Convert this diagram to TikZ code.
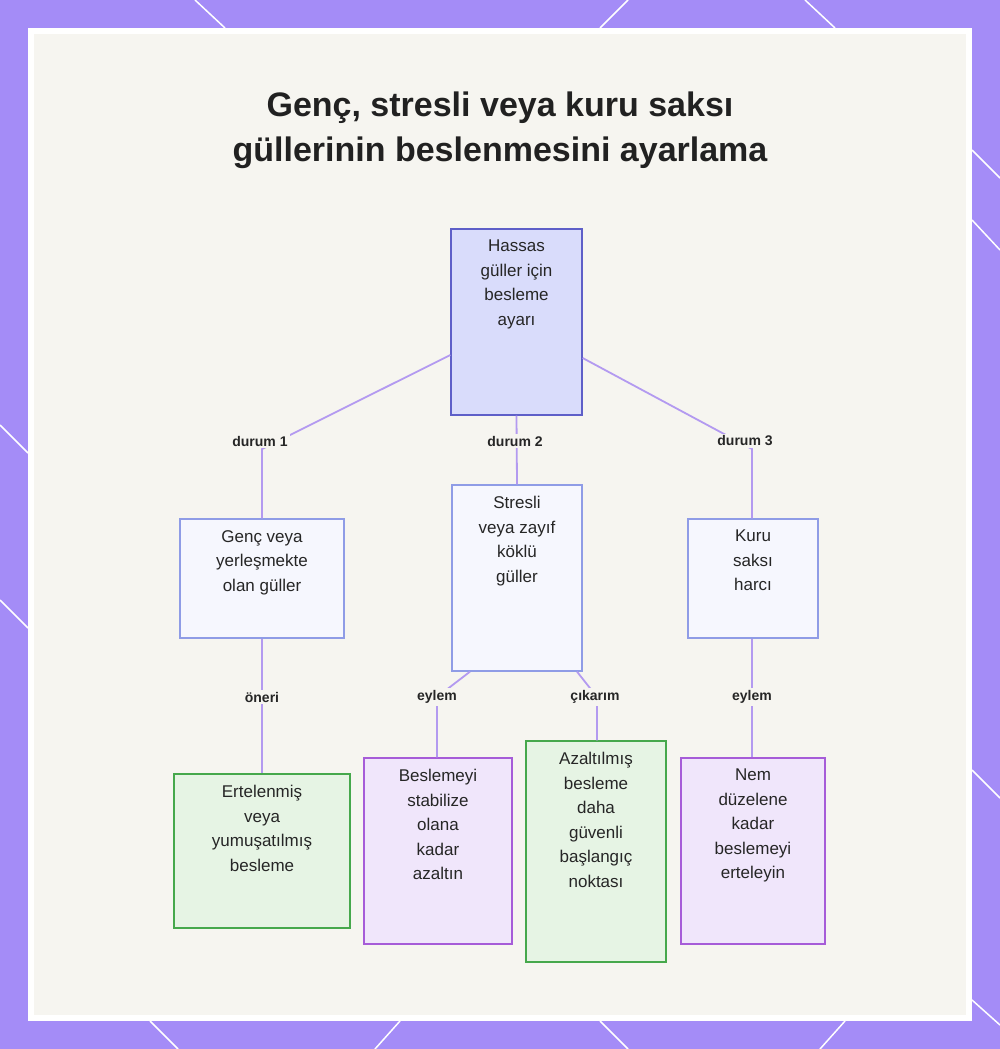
\documentclass[tikz,border=0pt]{standalone}
\usepackage{fontspec}
\setmainfont{Liberation Sans}
\definecolor{frame}{HTML}{A48CF7}
\definecolor{bg}{HTML}{F6F5F0}
\definecolor{line}{HTML}{B39AF0}
\definecolor{rf}{HTML}{D9DCFB}\definecolor{rd}{HTML}{5E5FC8}
\definecolor{lf}{HTML}{F6F7FE}\definecolor{ld}{HTML}{8F9CE6}
\definecolor{gf}{HTML}{E6F4E4}\definecolor{gd}{HTML}{46A84C}
\definecolor{pf}{HTML}{F0E6FB}\definecolor{pd}{HTML}{A65CD8}
\begin{document}
\begin{tikzpicture}[x=1pt,y=-1pt,
 box/.style={draw,line width=1.3pt,rectangle,inner sep=0pt},
 root/.style={box,fill=rf,draw=rd},
 lvl/.style={box,fill=lf,draw=ld},
 grn/.style={box,fill=gf,draw=gd},
 pur/.style={box,fill=pf,draw=pd},
 txt/.style={anchor=north,align=center,font=\fontsize{17}{24.5}\selectfont,text=black!85,inner sep=0pt},
 lab/.style={font=\bfseries\fontsize{14}{16}\selectfont,text=black!85,fill=bg,inner sep=2pt},
 con/.style={draw=line,line width=1.8pt}]
\useasboundingbox (0,0) rectangle (1000,1049);
\fill[frame] (0,0) rectangle (1000,1049);
\fill[white] (28,28) rectangle (972,1021);
\fill[bg] (34,34) rectangle (966,1015);
\foreach \a/\b/\c/\d in {195/0/225/28, 600/28/628/0, 805/0/835/28, 972/150/1000/178, 972/220/1000/250, 0/425/28/453, 0/600/28/628, 972/770/1000/798, 972/1000/1000/1025, 150/1021/178/1049, 600/1021/628/1049, 400/1021/375/1049, 845/1021/820/1049}
 \draw[white,line width=1.5pt] (\a,\b) -- (\c,\d);
\node[font=\bfseries\fontsize{34}{45}\selectfont,align=center,text=black!87] (title) at (500,130) {Genç, stresli veya kuru saksı\\güllerinin beslenmesini ayarlama};
\newcommand\bx[7]{%
 \node[#6,minimum width={#4-#2},minimum height={#5-#3}] (#1) at ({(#2+#4)/2},{(#3+#5)/2}) {};
 \node[txt] (#1t) at ({(#2+#4)/2},{#3+11}) {#7};}
\coordinate (k1) at (262,449); \coordinate (k3) at (752,449);
\coordinate (k5) at (437,697); \coordinate (k6) at (597,697);
\bx{r}{451}{229}{582}{415}{root}{Hassas\\güller için\\besleme\\ayarı}
\bx{a}{180}{519}{344}{638}{lvl}{Genç veya\\yerleşmekte\\olan güller}
\bx{b}{452}{485}{582}{671}{lvl}{Stresli\\veya zayıf\\köklü\\güller}
\bx{c}{688}{519}{818}{638}{lvl}{Kuru\\saksı\\harcı}
\bx{d}{174}{774}{350}{928}{grn}{Ertelenmiş\\veya\\yumuşatılmış\\besleme}
\bx{e}{364}{758}{512}{944}{pur}{Beslemeyi\\stabilize\\olana\\kadar\\azaltın}
\bx{f}{526}{741}{666}{962}{grn}{Azaltılmış\\besleme\\daha\\güvenli\\başlangıç\\noktası}
\bx{g}{681}{758}{825}{944}{pur}{Nem\\düzelene\\kadar\\beslemeyi\\erteleyin}
\draw[con] (r.west|-0,355) -- (k1) -- (a.north-|k1);
\draw[con] (r.south) -- (b.north);
\draw[con] (r.east|-0,358) -- (k3) -- (c.north-|k3);
\draw[con] (a.south) -- (d.north-|a.south);
\draw[con] (b.south-|470,0) -- (k5) -- (e.north-|k5);
\draw[con] (b.south-|577,0) -- (k6) -- (f.north-|k6);
\draw[con] (c.south-|k3) -- (g.north-|k3);
\node[lab] (l1) at (260,441) {durum 1};
\node[lab] (l2) at (515,441) {durum 2};
\node[lab] (l3) at (745,441) {durum 3};
\node[lab] (l4) at (262,697) {öneri};
\node[lab] (l5) at (437,697) {eylem};
\node[lab] (l6) at (595,697) {çıkarım};
\node[lab] (l7) at (752,697) {eylem};
\end{tikzpicture}
\end{document}
